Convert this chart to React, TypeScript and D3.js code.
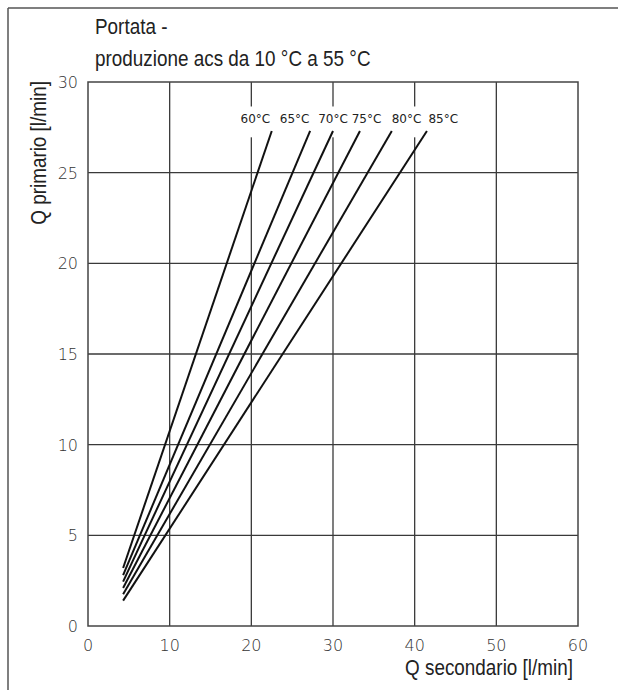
import React from "react";
import * as d3 from "d3";

const xTicks = [0, 10, 20, 30, 40, 50, 60];
const yTicks = [0, 5, 10, 15, 20, 25, 30];
const seriesNames = ["60°C", "65°C", "70°C", "75°C", "80°C", "85°C"];
const xStart = [4.3, 4.3, 4.3, 4.3, 4.3, 4.3];
const yStart = [3.2, 2.8, 2.45, 2.1, 1.75, 1.4];
const xEnd = [22.5, 27.2, 30.0, 33.3, 37.2, 41.5];
const yEnd = [27.3, 27.3, 27.3, 27.3, 27.3, 27.3];
const labelX = [20.5, 25.3, 30.0, 34.1, 39.0, 43.5];
const labelY = 27.75;
const titleLines = ["Portata -", "produzione acs da 10 °C a 55 °C"];
const xTitle = "Q secondario [l/min]";
const yTitle = "Q primario [l/min]";

const W = 618;
const H = 690;
const left = 88, right = 578, top = 82, bottom = 626;
const condense = 0.84;

export default function App() {
  const x = d3.scaleLinear().domain([0, 60]).range([left, right]);
  const y = d3.scaleLinear().domain([0, 30]).range([bottom, top]);
  const line = d3.line<[number, number]>().x((d) => x(d[0])).y((d) => y(d[1]));
  const tickFont = { fontFamily: "'DejaVu Sans', sans-serif", fontWeight: 200 as const, fontSize: 16, fill: "#333" };
  const sans = { fontFamily: "'Liberation Sans', Arial, sans-serif", fontSize: 22.5, fill: "#222" };
  return (
    <svg width={W} height={H} style={{ position: "absolute", left: 0, top: 0, background: "#fff" }}>
      <rect x={0} y={0} width={W} height={H} fill="#fff" />
      <line x1={8} y1={8} x2={W} y2={8} stroke="#555" strokeWidth={1.5} />
      <line x1={8} y1={8} x2={8} y2={H} stroke="#555" strokeWidth={1.5} />
      {titleLines.map((t, i) => (
        <text key={i} transform={`translate(95,${34 + i * 31.5}) scale(${condense},1)`} {...sans}>{t}</text>
      ))}
      {xTicks.slice(1, -1).map((v) => (
        <line key={"gx" + v} x1={x(v)} x2={x(v)} y1={y(30)} y2={y(0)} stroke="#3a3a3a" strokeWidth={1.3} />
      ))}
      {yTicks.slice(1, -1).map((v) => (
        <line key={"gy" + v} x1={x(0)} x2={x(60)} y1={y(v)} y2={y(v)} stroke="#3a3a3a" strokeWidth={1.3} />
      ))}
      <rect x={x(0)} y={y(30)} width={x(60) - x(0)} height={y(0) - y(30)} fill="none" stroke="#444" strokeWidth={1.5} />
      {seriesNames.map((n, i) => (
        <rect key={"bg" + n} x={x(labelX[i]) - 17} y={y(28.65)} width={34} height={y(26.95) - y(28.65)} fill="#fff" />
      ))}
      {seriesNames.map((n, i) => (
        <path key={"l" + n} d={line([[xStart[i], yStart[i]], [xEnd[i], yEnd[i]]]) || ""} stroke="#111" strokeWidth={2} fill="none" />
      ))}
      {seriesNames.map((n, i) => (
        <text key={"t" + n} x={x(labelX[i])} y={y(labelY)} textAnchor="middle" fontFamily="'DejaVu Sans', sans-serif" fontSize={12} fill="#222">{n}</text>
      ))}
      {yTicks.map((v) => (
        <text key={"yt" + v} x={78} y={y(v) + 6} textAnchor="end" {...tickFont}>{v}</text>
      ))}
      {xTicks.map((v) => (
        <text key={"xt" + v} x={x(v)} y={651} textAnchor="middle" {...tickFont}>{v}</text>
      ))}
      <text transform={`translate(573,675) scale(${condense},1)`} textAnchor="end" {...sans}>{xTitle}</text>
      <text transform={`translate(46,81) rotate(-90) scale(${condense},1)`} textAnchor="end" {...sans}>{yTitle}</text>
    </svg>
  );
}
